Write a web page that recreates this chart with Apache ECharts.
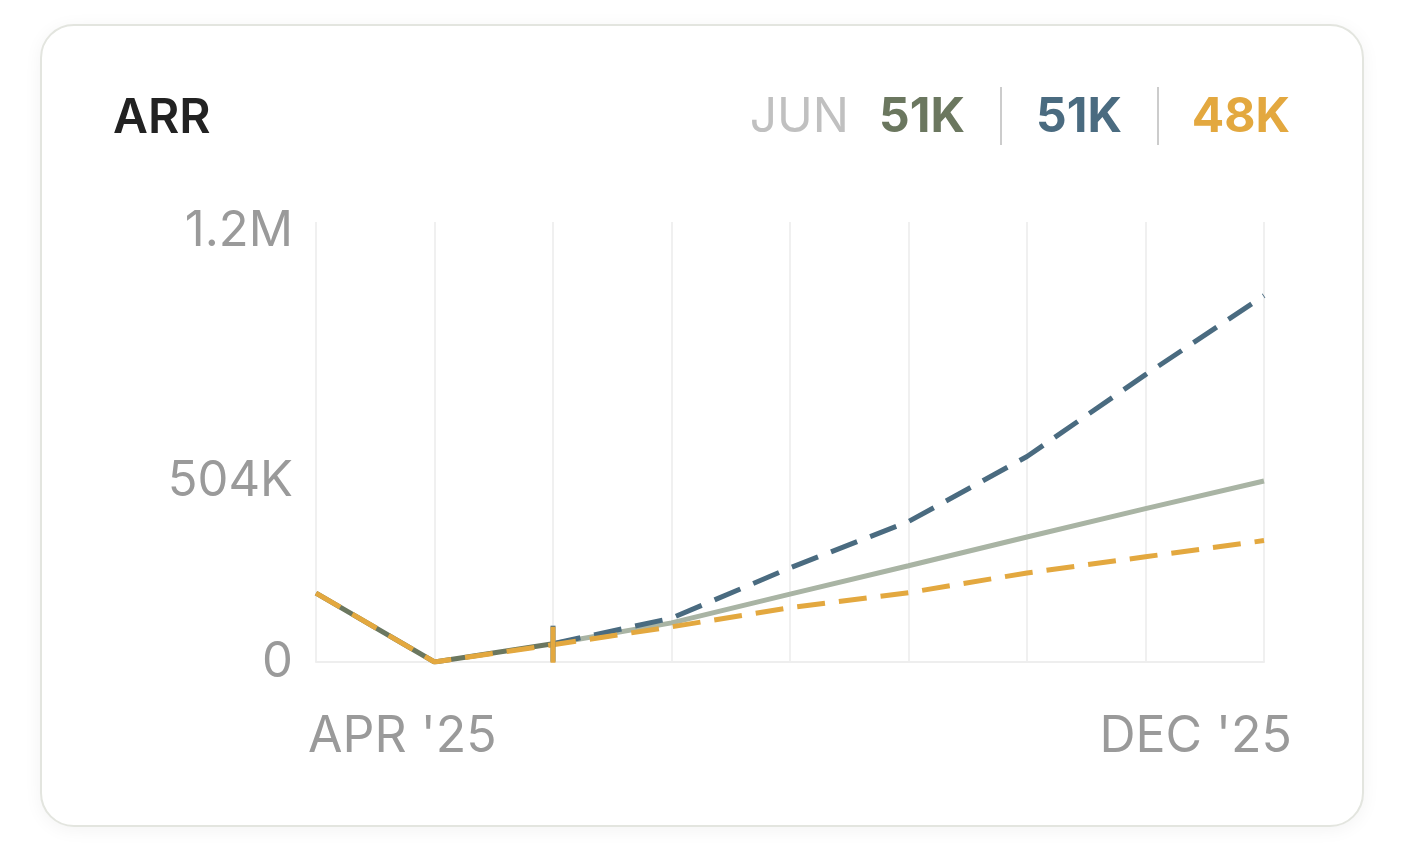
<!DOCTYPE html>
<html>
<head>
<meta charset="utf-8">
<script src="https://cdn.jsdelivr.net/npm/echarts@6.0.0/dist/echarts.min.js"></script>
<style>
  html, body { margin: 0; padding: 0; width: 1406px; height: 850px; background: #ffffff; overflow: hidden; }
  #card { position: absolute; left: 40px; top: 24px; width: 1320px; height: 799px; border: 2px solid #e3e5df; border-radius: 34px; background: #ffffff; box-shadow: 0 3px 18px rgba(0,0,0,0.05); }
  #chart { position: absolute; left: 0; top: 0; width: 1406px; height: 850px; }
</style>
</head>
<body>
<div id="card"></div>
<div id="chart"></div>
<script>
// ---- data ----
const months = ["APR '25", "MAY '25", "JUN '25", "JUL '25", "AUG '25", "SEP '25", "OCT '25", "NOV '25", "DEC '25"];
const actual = [192000, 0, 51000, null, null, null, null, null, null];
const baseCase = [null, null, 51000, 109000, 189000, 268000, 348000, 427000, 504000];
const upside = [null, null, 51000, 122000, 262000, 391000, 572000, 800000, 1020000];
const downside = [192000, 0, 48000, 98000, 151000, 193000, 248000, 293000, 338000];
const yTicks = [0, 504000, 1200000];
const title = 'ARR';
const currentIndex = 2;
const currentLabel = 'JUN';

const C_ACTUAL = '#6b775f', C_BASE = '#a9b4a4', C_UP = '#4a6b80', C_DOWN = '#e3a83f';
const FONT = 'Inter, "Noto Sans", sans-serif';

function fmt(v) {
  if (v === 0) return '0';
  if (v >= 1e6) return (Math.round(v / 1e5) / 10) + 'M';
  return Math.round(v / 1e3) + 'K';
}

const chart = echarts.init(document.getElementById('chart'), null, { renderer: 'canvas' });

const headerY = 118;
const option = {
  backgroundColor: 'transparent',
  animation: false,
  grid: { left: 316, right: 142, top: 222, bottom: 188 },
  xAxis: {
    type: 'category',
    data: months,
    boundaryGap: false,
    axisTick: { show: false },
    axisLine: { show: true, lineStyle: { color: '#eeeeee', width: 2 } },
    splitLine: { show: true, interval: 0, lineStyle: { color: '#f0f0f0', width: 2 } },
    axisLabel: {
      interval: 7,
      color: '#9a9a9a',
      fontFamily: FONT,
      fontSize: 50,
      margin: 50,
      alignMinLabel: 'left',
      alignMaxLabel: 'right',
      padding: [0, -28, 0, -8]
    }
  },
  yAxis: {
    type: 'value',
    min: 0,
    max: 1225000,
    splitLine: { show: false },
    axisLine: { show: false },
    axisTick: { show: false },
    axisLabel: {
      customValues: yTicks,
      formatter: fmt,
      color: '#9a9a9a',
      fontFamily: FONT,
      fontSize: 49,
      margin: 23
    }
  },
  series: [
    { name: 'Actual', type: 'line', data: actual, symbol: 'none', z: 2,
      lineStyle: { color: C_ACTUAL, width: 5 } },
    { name: 'Base', type: 'line', data: baseCase, symbol: 'none', z: 3,
      lineStyle: { color: C_BASE, width: 5 } },
    { name: 'Upside', type: 'line', data: upside, symbol: 'none', z: 4,
      lineStyle: { color: C_UP, width: 5, type: [28, 14] } },
    { name: 'Downside', type: 'line', data: downside, symbol: 'none', z: 5,
      lineStyle: { color: C_DOWN, width: 5, type: [28, 14] } },
    { name: 'UpMarker', type: 'scatter', z: 6, symbol: 'rect', symbolSize: [5, 36],
      itemStyle: { color: C_UP, opacity: 1 }, data: [[currentIndex, upside[currentIndex]]] },
    { name: 'DownMarker', type: 'scatter', z: 7, symbol: 'rect', symbolSize: [5, 36],
      itemStyle: { color: C_DOWN, opacity: 1 }, data: [[currentIndex, downside[currentIndex]]] }
  ],
  graphic: [
    { type: 'text', left: 113, top: headerY - 23, style: { text: title, font: '600 48px ' + FONT, fill: '#222222' } },
    { type: 'text', x: 1290, y: headerY, style: { text: fmt(downside[currentIndex]), font: '700 48px ' + FONT, fill: C_DOWN, align: 'right', verticalAlign: 'middle' } },
    { type: 'rect', shape: { x: 1157, y: 87, width: 2, height: 58 }, style: { fill: '#cccccc' } },
    { type: 'text', x: 1122, y: headerY, style: { text: fmt(upside[currentIndex]), font: '700 48px ' + FONT, fill: C_UP, align: 'right', verticalAlign: 'middle' } },
    { type: 'rect', shape: { x: 1000, y: 87, width: 2, height: 58 }, style: { fill: '#cccccc' } },
    { type: 'text', x: 965, y: headerY, style: { text: fmt(actual[currentIndex]), font: '700 48px ' + FONT, fill: C_ACTUAL, align: 'right', verticalAlign: 'middle' } },
    { type: 'text', x: 849, y: headerY, style: { text: currentLabel, font: '400 48px ' + FONT, fill: '#c0c0c0', align: 'right', verticalAlign: 'middle' } }
  ]
};
chart.setOption(option);
</script>
</body>
</html>
